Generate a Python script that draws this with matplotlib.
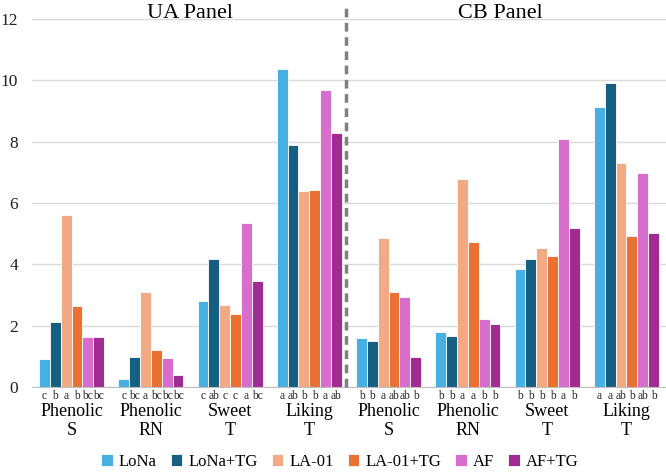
import numpy as np
import matplotlib.pyplot as plt

# sensory attributes and products
categories = ['Phenolic\nS', 'Phenolic\nRN', 'Sweet\nT', 'Liking\nT',
              'Phenolic\nS', 'Phenolic\nRN', 'Sweet\nT', 'Liking\nT']
products = ['LoNa', 'LoNa+TG', 'LA-01', 'LA-01+TG', 'AF', 'AF+TG']
colors = ['#45B0E1', '#156082', '#F2AA84', '#E97132', '#D86ECC', '#A02B93']

# mean scores, one list per product (UA panel first 4, CB panel last 4)
lona = [0.90, 0.25, 2.82, 10.37, 1.61, 1.81, 3.84, 9.13]
lona_tg = [2.12, 0.97, 4.16, 7.89, 1.50, 1.66, 4.18, 9.91]
la01 = [5.60, 3.10, 2.68, 6.39, 4.85, 6.78, 4.53, 7.29]
la01_tg = [2.65, 1.21, 2.39, 6.42, 3.09, 4.72, 4.27, 4.92]
af = [1.64, 0.93, 5.34, 9.68, 2.95, 2.22, 8.09, 6.97]
af_tg = [1.62, 0.38, 3.47, 8.28, 0.97, 2.07, 5.20, 5.01]
series = [lona, lona_tg, la01, la01_tg, af, af_tg]

# significance letters, per category in product order
letters = [['c', 'b', 'a', 'b', 'bc', 'bc'],
           ['c', 'bc', 'a', 'bc', 'bc', 'bc'],
           ['c', 'ab', 'c', 'c', 'a', 'bc'],
           ['a', 'ab', 'b', 'b', 'a', 'ab'],
           ['b', 'b', 'a', 'ab', 'ab', 'b'],
           ['b', 'b', 'a', 'a', 'b', 'b'],
           ['b', 'b', 'b', 'b', 'a', 'b'],
           ['a', 'a', 'ab', 'b', 'ab', 'b']]

plt.rcParams['font.family'] = ['Liberation Serif', 'DejaVu Serif']

fig = plt.figure(figsize=(6.66, 4.74), dpi=100)
ax = fig.add_axes([0.048, 0.1835, 0.952, 0.7765])

x = np.arange(len(categories))
w = 0.137
for i, (vals, c, lab) in enumerate(zip(series, colors, products)):
    pos = x + (i - 2.5) * w
    ax.bar(pos, vals, w, color=c, edgecolor='white', linewidth=0.6, label=lab, zorder=3)
    for j, p in enumerate(pos):
        ax.text(p, -0.1, letters[j][i], ha='center', va='top', fontsize=8.3, color='#222222')

ax.set_xlim(-0.5, len(categories) - 0.5)
ax.set_ylim(0, 12)
ax.set_yticks(range(0, 13, 2))
ax.tick_params(axis='y', length=0, labelsize=12.5, pad=10, colors='#222222')
ax.set_xticks(x)
ax.set_xticklabels(categories, fontsize=13, linespacing=1.15)
ax.tick_params(axis='x', length=0, pad=11.5)
ax.grid(axis='y', color='#d9d9d9', linewidth=1, zorder=0)
for s in ['top', 'right', 'left']:
    ax.spines[s].set_visible(False)
ax.spines['bottom'].set_color('#bfbfbf')
ax.spines['bottom'].set_zorder(4)

# panel divider
ax.plot([3.46, 3.46], [0, 12.5], color='#808080', lw=2.5, ls=(0, (2.5, 1.6)),
        clip_on=False, zorder=5)

fig.text(0.285, 0.972, 'UA Panel', ha='center', va='center', fontsize=16)
fig.text(0.751, 0.972, 'CB Panel', ha='center', va='center', fontsize=16)

fig.legend(loc='center', bbox_to_anchor=(0.51, 0.025), ncol=6, frameon=False,
           fontsize=12, handlelength=0.7, handleheight=0.7, handletextpad=0.35,
           columnspacing=0.85, borderpad=0)

fig.savefig('out.png', dpi=100)
